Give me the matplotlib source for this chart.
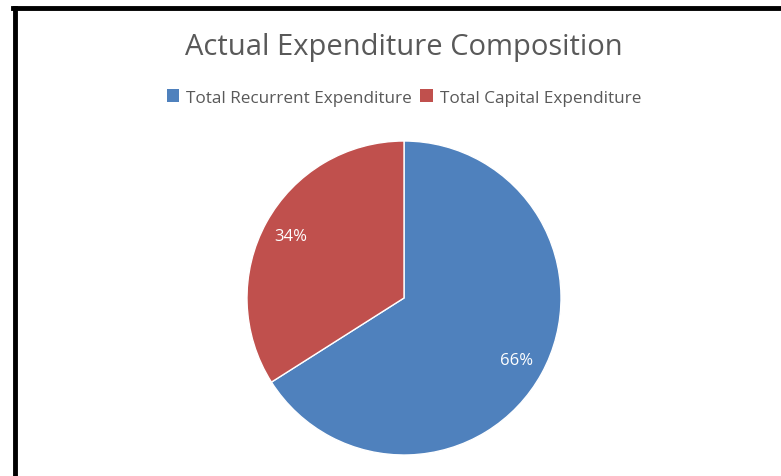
import matplotlib.pyplot as plt
from matplotlib.lines import Line2D
from matplotlib.patches import Patch

plt.rcParams['font.family'] = ['Open Sans', 'DejaVu Sans']

# data
labels = ['Total Recurrent Expenditure', 'Total Capital Expenditure']
shares = [66, 34]
colors = ['#4F81BD', '#C0504D']

W, H = 781, 477
fig = plt.figure(figsize=(W / 100, H / 100), dpi=100)

# pie axes: centre ~ (404, 299) px, radius ~157 px
cx, cy, r = 404, 299, 157
ax = fig.add_axes([(cx - r) / W, (H - cy - r) / H, 2 * r / W, 2 * r / H])
wedges, texts, autotexts = ax.pie(
    shares, colors=colors, startangle=90, counterclock=False,
    autopct='%1.0f%%', pctdistance=0.82,
    wedgeprops=dict(edgecolor='white', linewidth=1),
    textprops=dict(color='white', fontsize=12))
ax.set_xlim(-1, 1)
ax.set_ylim(-1, 1)
ax.set_aspect('auto')
ax.axis('off')

# title and legend
fig.text(cx / W, 1 - 48 / H, 'Actual Expenditure Composition',
         ha='center', va='center', fontsize=21, color='#595959')
handles = [Patch(facecolor=c, edgecolor='none') for c in colors]
fig.legend(handles, labels, loc='center', bbox_to_anchor=(cx / W, 1 - 98.5 / H),
           ncol=2, frameon=False, fontsize=12.3, labelcolor='#595959',
           handlelength=0.75, handleheight=0.75, handletextpad=0.4,
           columnspacing=0.5)

# black frame (clipped by the image edge on right and bottom)
fig.add_artist(Line2D([15 / W, 15 / W], [1 - 8.5 / H, -0.1],
                      color='black', linewidth=3.5, transform=fig.transFigure))
fig.add_artist(Line2D([13 / W, 1.1], [1 - 8.5 / H, 1 - 8.5 / H],
                      color='black', linewidth=3.5, transform=fig.transFigure))

plt.savefig('out.png', dpi=100)
